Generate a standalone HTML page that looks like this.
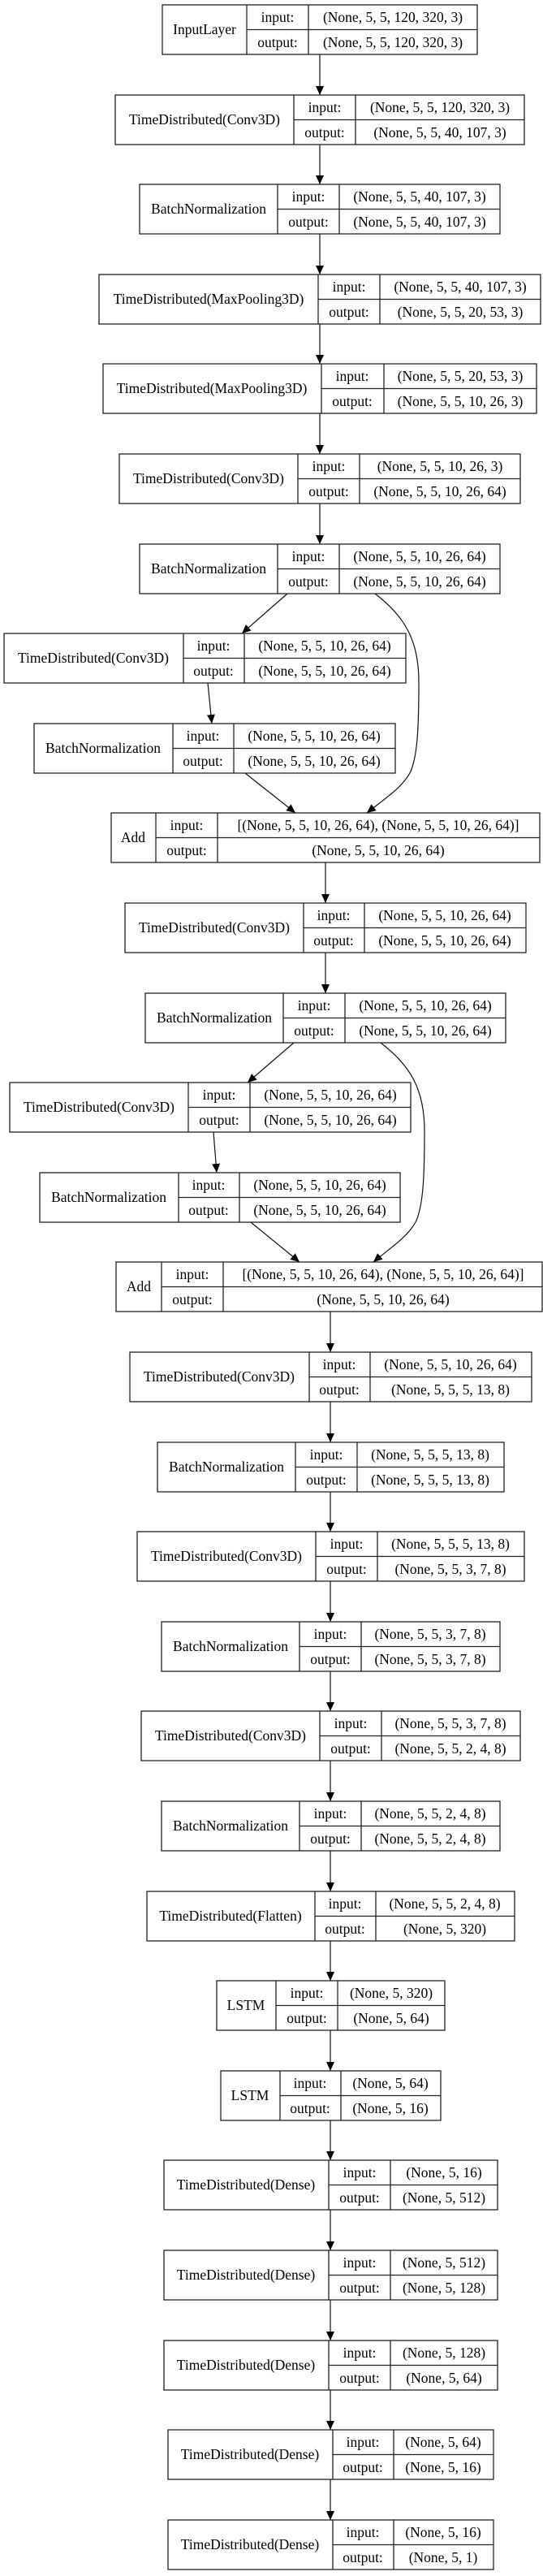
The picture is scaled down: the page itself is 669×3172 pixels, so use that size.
<!DOCTYPE html>
<html><head><meta charset="utf-8"><style>
html,body{margin:0;padding:0;background:#fff}
svg{display:block}
text{font-family:"Liberation Serif",serif;font-size:17.5px;fill:#000;text-anchor:middle}
.b{fill:none;stroke:#222;stroke-width:1.3}
.e{fill:none;stroke:#111;stroke-width:1.2}
</style></head><body>
<svg width="669" height="3172" viewBox="0 0 669 3172" xmlns="http://www.w3.org/2000/svg">
<defs><marker id="a" markerUnits="userSpaceOnUse" markerWidth="12" markerHeight="11" refX="11" refY="5" orient="auto"><path d="M0,0 L11,5 L0,10 z" fill="#000"/></marker></defs>

<!-- edges -->
<g class="e" marker-end="url(#a)">
<path d="M394,67 V117"/><path d="M394,178 V227"/><path d="M394,288 V338"/><path d="M394,399 V448"/><path d="M394,509 V559"/><path d="M394,620 V670"/>
<path d="M354,731 L298,780"/><path d="M256,841 L261,891"/><path d="M302,952 L364,1001"/>
<path d="M462,731 C500,760 516,790 516,840 C516,900 514,930 506,950 C496,970 472,985 452,1001"/>
<path d="M401,1062 V1112"/><path d="M401,1173 V1223"/>
<path d="M362,1284 L305,1333"/><path d="M263,1394 L267,1444"/><path d="M309,1505 L369,1554"/>
<path d="M469,1284 C507,1313 523,1343 523,1393 C523,1453 521,1483 513,1503 C503,1523 479,1538 460,1554"/>
<path d="M407,1615 V1665"/><path d="M407,1726 V1776"/><path d="M407,1837 V1886"/><path d="M407,1947 V1997"/><path d="M407,2058 V2107"/><path d="M407,2168 V2218"/><path d="M407,2279 V2329"/><path d="M407,2390 V2439"/><path d="M407,2500 V2550"/><path d="M407,2611 V2660"/><path d="M407,2721 V2771"/><path d="M407,2832 V2882"/><path d="M407,2943 V2992"/><path d="M407,3053 V3103"/>
</g>

<!-- nodes -->
<g transform="translate(0,6)"><rect class="b" x="200" y="0" width="388" height="61"/><path class="b" d="M304,0V61M380,0V61M304,30.5H588"/><text x="252" y="36">InputLayer</text><text x="342" y="21">input:</text><text x="342" y="52">output:</text><text x="484" y="21">(None, 5, 5, 120, 320, 3)</text><text x="484" y="52">(None, 5, 5, 120, 320, 3)</text></g>

<g transform="translate(0,117)"><rect class="b" x="142" y="0" width="504" height="61"/><path class="b" d="M362,0V61M438,0V61M362,30.5H646"/><text x="252" y="36">TimeDistributed(Conv3D)</text><text x="400" y="21">input:</text><text x="400" y="52">output:</text><text x="542" y="21">(None, 5, 5, 120, 320, 3)</text><text x="542" y="52">(None, 5, 5, 40, 107, 3)</text></g>

<g transform="translate(0,227)"><rect class="b" x="172" y="0" width="444" height="61"/><path class="b" d="M342,0V61M418,0V61M342,30.5H616"/><text x="257" y="36">BatchNormalization</text><text x="380" y="21">input:</text><text x="380" y="52">output:</text><text x="517" y="21">(None, 5, 5, 40, 107, 3)</text><text x="517" y="52">(None, 5, 5, 40, 107, 3)</text></g>

<g transform="translate(0,338)"><rect class="b" x="122" y="0" width="544" height="61"/><path class="b" d="M392,0V61M468,0V61M392,30.5H666"/><text x="257" y="36">TimeDistributed(MaxPooling3D)</text><text x="430" y="21">input:</text><text x="430" y="52">output:</text><text x="567" y="21">(None, 5, 5, 40, 107, 3)</text><text x="567" y="52">(None, 5, 5, 20, 53, 3)</text></g>

<g transform="translate(0,448)"><rect class="b" x="127" y="0" width="534" height="61"/><path class="b" d="M396,0V61M473,0V61M396,30.5H661"/><text x="261" y="36">TimeDistributed(MaxPooling3D)</text><text x="434" y="21">input:</text><text x="434" y="52">output:</text><text x="567" y="21">(None, 5, 5, 20, 53, 3)</text><text x="567" y="52">(None, 5, 5, 10, 26, 3)</text></g>

<g transform="translate(0,559)"><rect class="b" x="147" y="0" width="494" height="61"/><path class="b" d="M367,0V61M443,0V61M367,30.5H641"/><text x="257" y="36">TimeDistributed(Conv3D)</text><text x="405" y="21">input:</text><text x="405" y="52">output:</text><text x="542" y="21">(None, 5, 5, 10, 26, 3)</text><text x="542" y="52">(None, 5, 5, 10, 26, 64)</text></g>

<g transform="translate(0,670)"><rect class="b" x="172" y="0" width="444" height="61"/><path class="b" d="M342,0V61M418,0V61M342,30.5H616"/><text x="257" y="36">BatchNormalization</text><text x="380" y="21">input:</text><text x="380" y="52">output:</text><text x="517" y="21">(None, 5, 5, 10, 26, 64)</text><text x="517" y="52">(None, 5, 5, 10, 26, 64)</text></g>

<g transform="translate(0,780)"><rect class="b" x="5" y="0" width="495" height="61"/><path class="b" d="M226,0V61M301,0V61M226,30.5H500"/><text x="115" y="36">TimeDistributed(Conv3D)</text><text x="263" y="21">input:</text><text x="263" y="52">output:</text><text x="400" y="21">(None, 5, 5, 10, 26, 64)</text><text x="400" y="52">(None, 5, 5, 10, 26, 64)</text></g>

<g transform="translate(0,891)"><rect class="b" x="42" y="0" width="445" height="61"/><path class="b" d="M213,0V61M288,0V61M213,30.5H487"/><text x="127" y="36">BatchNormalization</text><text x="250" y="21">input:</text><text x="250" y="52">output:</text><text x="387" y="21">(None, 5, 5, 10, 26, 64)</text><text x="387" y="52">(None, 5, 5, 10, 26, 64)</text></g>

<g transform="translate(0,1001)"><rect class="b" x="137" y="0" width="528" height="61"/><path class="b" d="M192,0V61M268,0V61M192,30.5H665"/><text x="164" y="36">Add</text><text x="230" y="21">input:</text><text x="230" y="52">output:</text><text x="466" y="21">[(None, 5, 5, 10, 26, 64), (None, 5, 5, 10, 26, 64)]</text><text x="466" y="52">(None, 5, 5, 10, 26, 64)</text></g>

<g transform="translate(0,1112)"><rect class="b" x="154" y="0" width="494" height="61"/><path class="b" d="M374,0V61M449,0V61M374,30.5H648"/><text x="264" y="36">TimeDistributed(Conv3D)</text><text x="411" y="21">input:</text><text x="411" y="52">output:</text><text x="548" y="21">(None, 5, 5, 10, 26, 64)</text><text x="548" y="52">(None, 5, 5, 10, 26, 64)</text></g>

<g transform="translate(0,1223)"><rect class="b" x="179" y="0" width="444" height="61"/><path class="b" d="M349,0V61M425,0V61M349,30.5H623"/><text x="264" y="36">BatchNormalization</text><text x="387" y="21">input:</text><text x="387" y="52">output:</text><text x="524" y="21">(None, 5, 5, 10, 26, 64)</text><text x="524" y="52">(None, 5, 5, 10, 26, 64)</text></g>

<g transform="translate(0,1333)"><rect class="b" x="12" y="0" width="494" height="61"/><path class="b" d="M232,0V61M308,0V61M232,30.5H506"/><text x="122" y="36">TimeDistributed(Conv3D)</text><text x="270" y="21">input:</text><text x="270" y="52">output:</text><text x="407" y="21">(None, 5, 5, 10, 26, 64)</text><text x="407" y="52">(None, 5, 5, 10, 26, 64)</text></g>

<g transform="translate(0,1444)"><rect class="b" x="49" y="0" width="444" height="61"/><path class="b" d="M220,0V61M295,0V61M220,30.5H493"/><text x="134" y="36">BatchNormalization</text><text x="257" y="21">input:</text><text x="257" y="52">output:</text><text x="394" y="21">(None, 5, 5, 10, 26, 64)</text><text x="394" y="52">(None, 5, 5, 10, 26, 64)</text></g>

<g transform="translate(0,1554)"><rect class="b" x="143" y="0" width="525" height="61"/><path class="b" d="M199,0V61M275,0V61M199,30.5H668"/><text x="171" y="36">Add</text><text x="237" y="21">input:</text><text x="237" y="52">output:</text><text x="472" y="21">[(None, 5, 5, 10, 26, 64), (None, 5, 5, 10, 26, 64)]</text><text x="472" y="52">(None, 5, 5, 10, 26, 64)</text></g>

<g transform="translate(0,1665)"><rect class="b" x="160" y="0" width="495" height="61"/><path class="b" d="M381,0V61M456,0V61M381,30.5H655"/><text x="270" y="36">TimeDistributed(Conv3D)</text><text x="418" y="21">input:</text><text x="418" y="52">output:</text><text x="555" y="21">(None, 5, 5, 10, 26, 64)</text><text x="555" y="52">(None, 5, 5, 5, 13, 8)</text></g>

<g transform="translate(0,1776)"><rect class="b" x="194" y="0" width="427" height="61"/><path class="b" d="M364,0V61M440,0V61M364,30.5H621"/><text x="279" y="36">BatchNormalization</text><text x="402" y="21">input:</text><text x="402" y="52">output:</text><text x="530" y="21">(None, 5, 5, 5, 13, 8)</text><text x="530" y="52">(None, 5, 5, 5, 13, 8)</text></g>

<g transform="translate(0,1886)"><rect class="b" x="169" y="0" width="477" height="61"/><path class="b" d="M389,0V61M465,0V61M389,30.5H646"/><text x="279" y="36">TimeDistributed(Conv3D)</text><text x="427" y="21">input:</text><text x="427" y="52">output:</text><text x="555" y="21">(None, 5, 5, 5, 13, 8)</text><text x="555" y="52">(None, 5, 5, 3, 7, 8)</text></g>

<g transform="translate(0,1997)"><rect class="b" x="199" y="0" width="417" height="61"/><path class="b" d="M369,0V61M445,0V61M369,30.5H616"/><text x="284" y="36">BatchNormalization</text><text x="407" y="21">input:</text><text x="407" y="52">output:</text><text x="530" y="21">(None, 5, 5, 3, 7, 8)</text><text x="530" y="52">(None, 5, 5, 3, 7, 8)</text></g>

<g transform="translate(0,2107)"><rect class="b" x="174" y="0" width="467" height="61"/><path class="b" d="M394,0V61M470,0V61M394,30.5H641"/><text x="284" y="36">TimeDistributed(Conv3D)</text><text x="432" y="21">input:</text><text x="432" y="52">output:</text><text x="555" y="21">(None, 5, 5, 3, 7, 8)</text><text x="555" y="52">(None, 5, 5, 2, 4, 8)</text></g>

<g transform="translate(0,2218)"><rect class="b" x="199" y="0" width="417" height="61"/><path class="b" d="M369,0V61M445,0V61M369,30.5H616"/><text x="284" y="36">BatchNormalization</text><text x="407" y="21">input:</text><text x="407" y="52">output:</text><text x="530" y="21">(None, 5, 5, 2, 4, 8)</text><text x="530" y="52">(None, 5, 5, 2, 4, 8)</text></g>

<g transform="translate(0,2329)"><rect class="b" x="181" y="0" width="453" height="61"/><path class="b" d="M388,0V61M463,0V61M388,30.5H634"/><text x="284" y="36">TimeDistributed(Flatten)</text><text x="425" y="21">input:</text><text x="425" y="52">output:</text><text x="548" y="21">(None, 5, 5, 2, 4, 8)</text><text x="548" y="52">(None, 5, 320)</text></g>

<g transform="translate(0,2439)"><rect class="b" x="267" y="0" width="281" height="61"/><path class="b" d="M340,0V61M416,0V61M340,30.5H548"/><text x="303" y="36">LSTM</text><text x="378" y="21">input:</text><text x="378" y="52">output:</text><text x="482" y="21">(None, 5, 320)</text><text x="482" y="52">(None, 5, 64)</text></g>

<g transform="translate(0,2550)"><rect class="b" x="272" y="0" width="271" height="61"/><path class="b" d="M345,0V61M420,0V61M345,30.5H543"/><text x="308" y="36">LSTM</text><text x="382" y="21">input:</text><text x="382" y="52">output:</text><text x="481" y="21">(None, 5, 64)</text><text x="481" y="52">(None, 5, 16)</text></g>

<g transform="translate(0,2660)"><rect class="b" x="202" y="0" width="411" height="61"/><path class="b" d="M405,0V61M481,0V61M405,30.5H613"/><text x="303" y="36">TimeDistributed(Dense)</text><text x="443" y="21">input:</text><text x="443" y="52">output:</text><text x="547" y="21">(None, 5, 16)</text><text x="547" y="52">(None, 5, 512)</text></g>

<g transform="translate(0,2771)"><rect class="b" x="202" y="0" width="411" height="61"/><path class="b" d="M405,0V61M481,0V61M405,30.5H613"/><text x="303" y="36">TimeDistributed(Dense)</text><text x="443" y="21">input:</text><text x="443" y="52">output:</text><text x="547" y="21">(None, 5, 512)</text><text x="547" y="52">(None, 5, 128)</text></g>

<g transform="translate(0,2882)"><rect class="b" x="202" y="0" width="411" height="61"/><path class="b" d="M405,0V61M481,0V61M405,30.5H613"/><text x="303" y="36">TimeDistributed(Dense)</text><text x="443" y="21">input:</text><text x="443" y="52">output:</text><text x="547" y="21">(None, 5, 128)</text><text x="547" y="52">(None, 5, 64)</text></g>

<g transform="translate(0,2992)"><rect class="b" x="207" y="0" width="401" height="61"/><path class="b" d="M410,0V61M485,0V61M410,30.5H608"/><text x="308" y="36">TimeDistributed(Dense)</text><text x="447" y="21">input:</text><text x="447" y="52">output:</text><text x="546" y="21">(None, 5, 64)</text><text x="546" y="52">(None, 5, 16)</text></g>

<g transform="translate(0,3103)"><rect class="b" x="207" y="0" width="401" height="61"/><path class="b" d="M410,0V61M485,0V61M410,30.5H608"/><text x="308" y="36">TimeDistributed(Dense)</text><text x="447" y="21">input:</text><text x="447" y="52">output:</text><text x="546" y="21">(None, 5, 16)</text><text x="546" y="52">(None, 5, 1)</text></g>
</svg>
</body></html>
